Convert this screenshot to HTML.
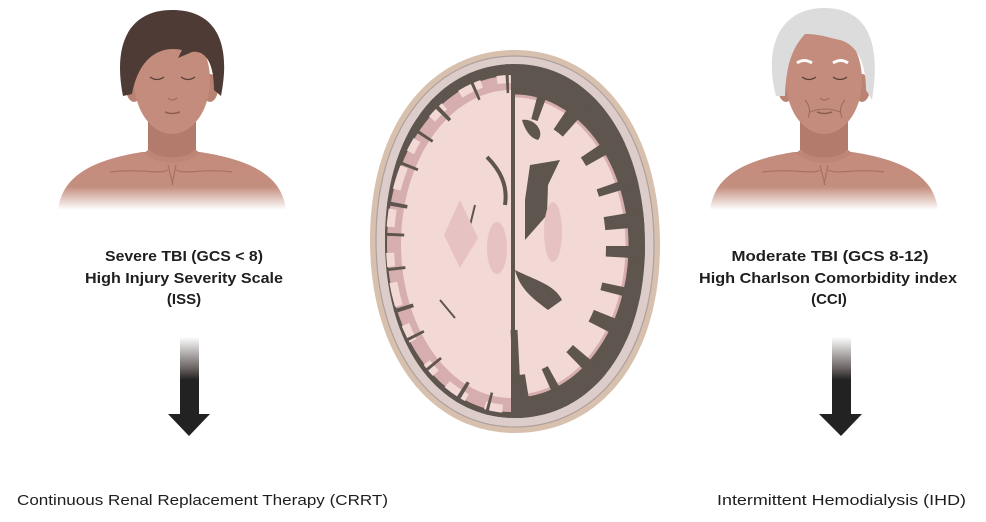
<!DOCTYPE html>
<html><head><meta charset="utf-8"><style>
html,body{margin:0;padding:0;background:#fff;}
svg{display:block;}
text{font-family:"Liberation Sans",sans-serif;fill:#1e1e1e;}
</style></head><body>
<svg width="986" height="522" viewBox="0 0 986 522" xmlns="http://www.w3.org/2000/svg">
<defs>
<linearGradient id="sh" x1="0" y1="0" x2="0" y2="1">
<stop offset="0" stop-color="#c38b7b"/><stop offset="0.6" stop-color="#c48e7e"/><stop offset="1" stop-color="#ffffff"/>
</linearGradient>
<linearGradient id="ar" x1="0" y1="0" x2="0" y2="1">
<stop offset="0" stop-color="#ffffff"/><stop offset="0.4" stop-color="#6a6462"/><stop offset="0.55" stop-color="#222"/><stop offset="1" stop-color="#222"/>
</linearGradient>
<clipPath id="cl"><rect x="370" y="40" width="141" height="400"/></clipPath>
<clipPath id="cr"><rect x="515" y="40" width="150" height="400"/></clipPath>
<clipPath id="cin"><path d="M515,64 C590,64 645,138 645,245 C645,350 590,418 515,418 C440,418 385,348 385,240 C385,132 440,64 515,64 Z"/></clipPath>
<g id="person">
<path d="M58,210 C62,176 92,160 142,152 L200,152 C252,160 282,176 286,210 Z" fill="url(#sh)"/>
<path d="M148,100 L196,100 L196,150 C185,160 160,160 148,150 Z" fill="#b27b6c"/>
<path d="M148,150 C160,160 185,160 196,150 L200,153 C186,166 158,166 144,153 Z" fill="#bd8676"/>
<path d="M168,165 L173,185 M176,165 L172,185 M110,172 C140,168 160,175 168,170 M232,172 C205,168 185,175 176,170" stroke="#a87262" stroke-width="1.2" fill="none"/>
<ellipse cx="134" cy="88" rx="8" ry="14" fill="#b98272"/>
<ellipse cx="210" cy="88" rx="8" ry="14" fill="#b98272"/>
<ellipse cx="172" cy="80" rx="38" ry="54" fill="#c38c7c"/>
<path d="M150,77 Q157,82 164,77 M181,77 Q188,82 195,77" stroke="#5a3e37" stroke-width="1.3" fill="none"/>
<path d="M165,112 Q172,115 180,112" stroke="#8f5e52" stroke-width="1.5" fill="none"/>
<path d="M168,98 Q172,102 177,98" stroke="#a06b5e" stroke-width="1.2" fill="none"/>
</g>
</defs>

<use href="#person"/>
<path d="M123,96 C112,40 132,10 172,10 C214,10 232,40 221,96 L214,90 C214,62 205,50 192,52 L178,58 L182,50 C165,46 140,52 132,94 Z" fill="#4e3b35"/>

<g transform="translate(652,0)"><use href="#person"/></g>
<path d="M776,96 C762,40 785,8 824,8 C866,8 882,40 872,100 L866,90 C866,60 855,44 840,40 C830,38 820,34 805,34 C790,50 786,70 785,96 Z" fill="#dcdcdc"/>
<path d="M797,63 Q804,58 812,63 M833,63 Q841,58 848,63" stroke="#fafafa" stroke-width="3" fill="none"/>
<path d="M810,112 Q825,106 840,112 M805,100 Q812,108 808,118 M845,100 Q838,108 842,118" stroke="#9a6a5c" stroke-width="1" fill="none"/>

<!-- brain -->
<path d="M515,50 C600,50 660,130 660,245 C660,360 600,433 515,433 C430,433 370,355 370,240 C370,125 430,50 515,50 Z" fill="#d8c0ae"/>
<path d="M515,56 C596,56 654,133 654,245 C654,356 596,427 515,427 C434,427 376,352 376,240 C376,128 434,56 515,56 Z" fill="#dcccca" stroke="#b0a09c" stroke-width="1.2"/>
<path d="M515,64 C590,64 645,138 645,245 C645,350 590,418 515,418 C440,418 385,348 385,240 C385,132 440,64 515,64 Z" fill="#5e554f"/>
<g clip-path="url(#cin)">
<g clip-path="url(#cl)">
<ellipse cx="511" cy="244" rx="124" ry="168" fill="#d7aeb0"/>
<ellipse cx="511" cy="244" rx="110" ry="154" fill="#f2d9d6"/>
<ellipse cx="511" cy="244" rx="122" ry="166" fill="none" stroke="#f2d9d6" stroke-width="10" stroke-dasharray="18 20 24 16 14 26"/>
<ellipse cx="511" cy="244" rx="122" ry="166" fill="none" stroke="#5e554f" stroke-width="30" stroke-dasharray="3 32 3 27 4 38"/>
<ellipse cx="511" cy="244" rx="129" ry="173" fill="none" stroke="#5e554f" stroke-width="8"/>
</g>
<g clip-path="url(#cr)">
<ellipse cx="515" cy="246" rx="112" ry="150" fill="#f2d9d6" stroke="#d7aeb0" stroke-width="3"/>
<ellipse cx="515" cy="246" rx="116" ry="154" fill="none" stroke="#5e554f" stroke-width="50" stroke-dasharray="12 30 9 24 15 34"/>
</g>
</g>
<path d="M475,205 L462,258 M440,300 L455,318" stroke="#5e554f" stroke-width="2" fill="none"/>
<polygon points="460,200 478,238 460,268 444,235" fill="#e6c3c2"/>
<ellipse cx="497" cy="248" rx="10" ry="26" fill="#e6c3c2"/>
<path d="M487,157 C500,170 508,185 505,205" stroke="#5e554f" stroke-width="4" fill="none"/>
<path d="M522,120 C535,118 545,132 538,140 C530,138 525,130 522,120 Z" fill="#5e554f"/>
<path d="M530,165 L560,160 L548,185 L547,215 L525,240 L525,200 Z" fill="#5e554f"/>
<path d="M515,270 C535,280 555,285 562,300 L548,310 C535,300 520,290 515,270 Z" fill="#5e554f"/>
<path d="M514,330 L518,410" stroke="#5e554f" stroke-width="7"/>
<ellipse cx="553" cy="232" rx="9" ry="30" fill="#e6c3c2"/>

<rect x="180" y="337" width="19" height="78" fill="url(#ar)"/>
<polygon points="168,414 210,414 189,436" fill="#222"/>
<rect x="832" y="337" width="19" height="78" fill="url(#ar)"/>
<polygon points="819,414 862,414 841,436" fill="#222"/>

<g font-size="15" font-weight="bold" text-anchor="middle">
<text x="184" y="261" textLength="158" lengthAdjust="spacingAndGlyphs">Severe TBI (GCS &lt; 8)</text>
<text x="184" y="283" textLength="198" lengthAdjust="spacingAndGlyphs">High Injury Severity Scale</text>
<text x="184" y="304">(ISS)</text>
<text x="830" y="261" textLength="197" lengthAdjust="spacingAndGlyphs">Moderate TBI (GCS 8-12)</text>
<text x="828" y="283" textLength="258" lengthAdjust="spacingAndGlyphs">High Charlson Comorbidity index</text>
<text x="829" y="304">(CCI)</text>
</g>
<text x="17" y="505" font-size="15" textLength="371" lengthAdjust="spacingAndGlyphs">Continuous Renal Replacement Therapy (CRRT)</text>
<text x="717" y="505" font-size="15" textLength="249" lengthAdjust="spacingAndGlyphs">Intermittent Hemodialysis (IHD)</text>
</svg>
</body></html>
